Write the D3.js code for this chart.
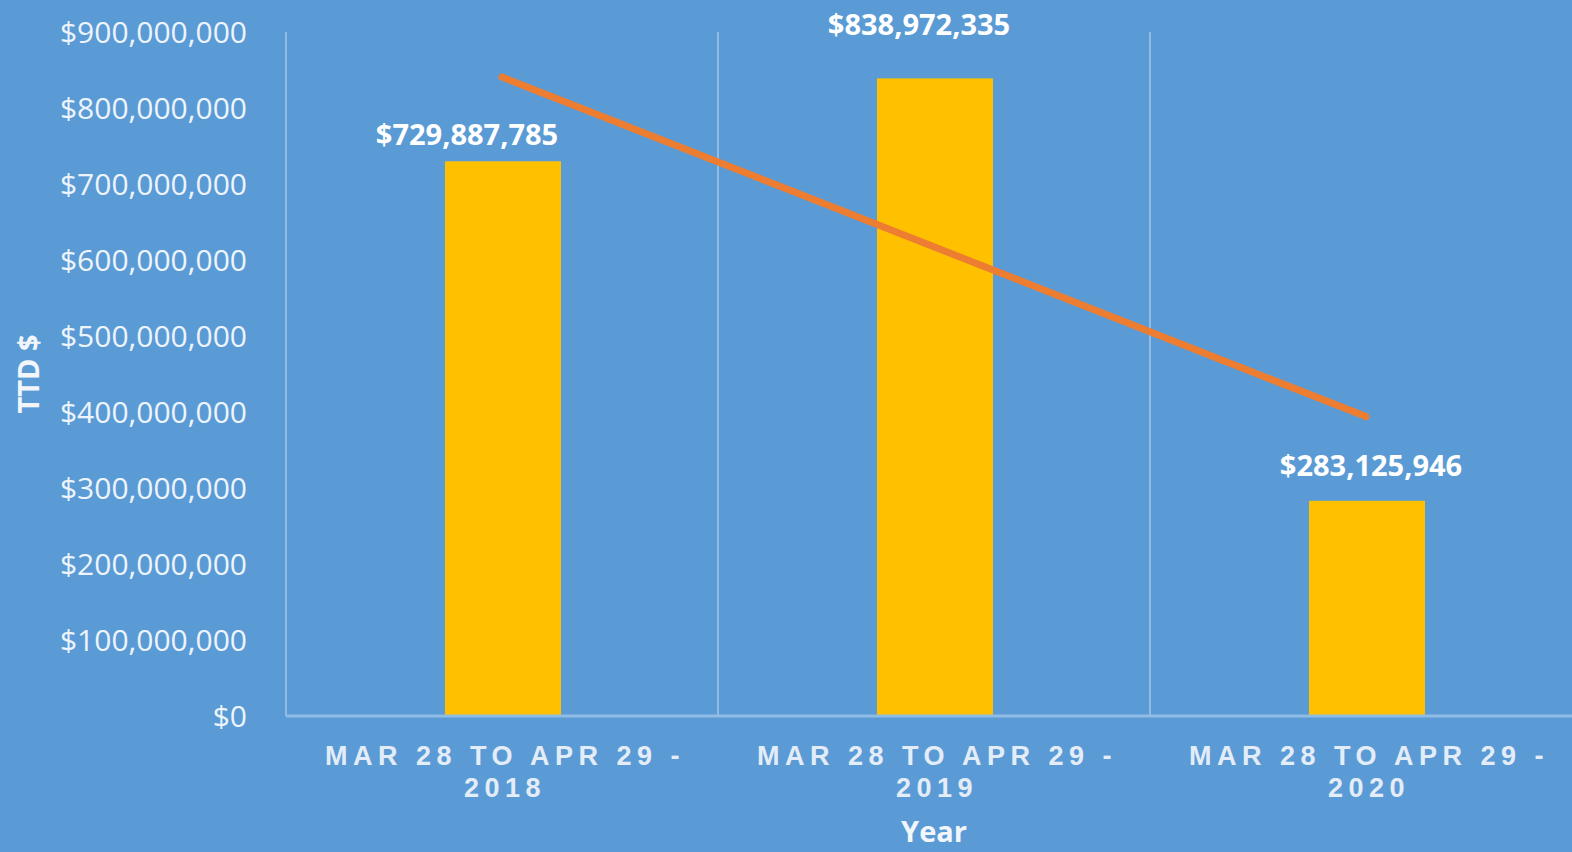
<!DOCTYPE html>
<html>
<head>
<meta charset="utf-8">
<script src="https://cdn.jsdelivr.net/npm/d3@7"></script>
<style>
  html, body { margin: 0; padding: 0; background: #5B9BD5; overflow: hidden; }
  .ticks text { font-family: "Open Sans", sans-serif; font-size: 30px; fill: #EEF4FB; }
  .cat { font-family: "Liberation Sans", Arial, sans-serif; font-size: 27px; font-weight: bold; fill: #E4EDF7; letter-spacing: 5.5px; }
  .lbl { font-family: "Open Sans", sans-serif; font-size: 29px; font-weight: bold; fill: #FFFFFF; }
  .ttl { font-family: "Open Sans", sans-serif; font-size: 29px; font-weight: bold; fill: #F2F6FB; }
</style>
</head>
<body>
<div id="chart"></div>
<script>
// datos
const periodos = ["MAR 28 TO APR 29 - 2018", "MAR 28 TO APR 29 - 2019", "MAR 28 TO APR 29 - 2020"];
const lineas1 = ["MAR 28 TO APR 29 -", "MAR 28 TO APR 29 -", "MAR 28 TO APR 29 -"];
const lineas2 = ["2018", "2019", "2020"];
const valores = [729887785, 838972335, 283125946];
const ticksY = [0, 100e6, 200e6, 300e6, 400e6, 500e6, 600e6, 700e6, 800e6, 900e6];

// ajuste de las etiquetas (como en la imagen original)
const nudge = [[-35, 6], [-15, -21], [5, -3]];

const anchoTotal = 1572, altoTotal = 852;
const m = { left: 286, right: -10, top: 32, bottom: 136 };

const svg = d3.select("#chart").append("svg")
  .attr("width", anchoTotal).attr("height", altoTotal);

svg.append("rect").attr("width", anchoTotal).attr("height", altoTotal).attr("fill", "#5B9BD5");

const x = d3.scaleBand().domain(periodos).range([m.left, anchoTotal - m.right]).padding(0);
const y = d3.scaleLinear().domain([0, 900e6]).range([altoTotal - m.bottom, m.top]);

const colorLinea = "#8FBBE5";

// separadores verticales entre categorias
svg.append("g").selectAll("line").data(periodos).join("line")
  .attr("x1", d => x(d)).attr("x2", d => x(d))
  .attr("y1", y(900e6)).attr("y2", y(0))
  .attr("stroke", colorLinea).attr("stroke-width", 2);

// eje Y
const yAxis = d3.axisLeft(y).tickValues(ticksY).tickSize(0).tickPadding(39)
  .tickFormat(d => "$" + d3.format(",")(d));
const gy = svg.append("g").attr("class", "ticks")
  .attr("transform", `translate(${m.left},0)`).call(yAxis);
gy.select(".domain").remove();
gy.selectAll("text").attr("dy", "0.36em");

// barras
const bw = 116;
svg.append("g").selectAll("rect").data(valores).join("rect")
  .attr("x", (d, i) => x(periodos[i]) + x.bandwidth() / 2 - bw / 2 + 1)
  .attr("y", d => y(d))
  .attr("width", bw)
  .attr("height", d => y(0) - y(d))
  .attr("fill", "#FFC000");

// linea base
svg.append("line")
  .attr("x1", m.left).attr("x2", anchoTotal)
  .attr("y1", y(0)).attr("y2", y(0))
  .attr("stroke", colorLinea).attr("stroke-width", 3);

// linea de tendencia (regresion lineal de los valores)
const n = valores.length;
const xs = d3.range(1, n + 1);
const mx = d3.mean(xs), my = d3.mean(valores);
const pend = d3.sum(xs, (v, i) => (v - mx) * (valores[i] - my)) / d3.sum(xs, v => (v - mx) ** 2);
const tend = xs.map(v => my + pend * (v - mx));
const cx = i => x(periodos[i]) + x.bandwidth() / 2;
svg.append("line")
  .attr("x1", cx(0)).attr("y1", y(tend[0]))
  .attr("x2", cx(n - 1)).attr("y2", y(tend[n - 1]))
  .attr("stroke", "#ED7D31").attr("stroke-width", 7).attr("stroke-linecap", "round");

// etiquetas de valores
svg.append("g").selectAll("text").data(valores).join("text")
  .attr("class", "lbl")
  .attr("text-anchor", "middle")
  .attr("x", (d, i) => cx(i) + nudge[i][0])
  .attr("y", (d, i) => y(d) - 22 + nudge[i][1])
  .text(d => "$" + d3.format(",")(d));

// etiquetas de categorias
const gCat = svg.append("g");
periodos.forEach((p, i) => {
  gCat.append("text").attr("class", "cat").attr("text-anchor", "middle")
    .attr("x", cx(i) + 3).attr("y", 765).text(lineas1[i]);
  gCat.append("text").attr("class", "cat").attr("text-anchor", "middle")
    .attr("x", cx(i) + 3).attr("y", 797).text(lineas2[i]);
});

// titulos de ejes
svg.append("text").attr("class", "ttl").attr("text-anchor", "middle")
  .attr("x", cx(1)).attr("y", 842).text("Year");
svg.append("text").attr("class", "ttl").attr("text-anchor", "middle")
  .attr("transform", "translate(39,374) rotate(-90)").text("TTD $");
</script>
</body>
</html>
